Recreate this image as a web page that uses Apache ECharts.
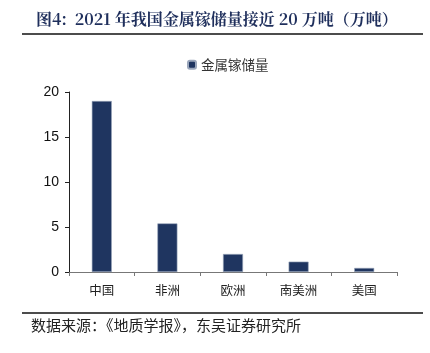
<!DOCTYPE html>
<html>
<head>
<meta charset="utf-8">
<script src="https://cdn.jsdelivr.net/npm/echarts@6/dist/echarts.min.js"></script>
<style>
  html, body { margin: 0; padding: 0; background: #fff; }
  #chart { width: 430px; height: 353px; }
</style>
</head>
<body>
<div id="chart"></div>
<script>
// data
const categories = ['中国', '非洲', '欧洲', '南美洲', '美国']
const reserves = [19.0, 5.4, 2.0, 1.15, 0.45]
const seriesName = '金属镓储量'
const yTicks = [0, 5, 10, 15, 20]

const chart = echarts.init(document.getElementById('chart'))

chart.setOption({
  animation: false,
  title: {
    text: '图4:  2021 年我国金属镓储量接近 20 万吨（万吨）',
    left: 31,
    top: 6,
    textStyle: {
      fontFamily: '"Noto Serif CJK SC", "Noto Sans CJK SC", serif',
      fontSize: 16,
      fontWeight: 'bold',
      color: '#1f2f5c'
    }
  },
  legend: {
    data: [seriesName],
    top: 53,
    left: 182,
    itemWidth: 8,
    itemHeight: 8,
    itemGap: 4,
    textStyle: {
      fontFamily: '"Noto Sans CJK SC", sans-serif',
      fontSize: 13.5,
      color: '#333'
    }
  },
  grid: {
    left: 69,
    right: 33,
    top: 92,
    bottom: 81
  },
  xAxis: {
    type: 'category',
    data: categories,
    axisLine: { lineStyle: { color: '#777', width: 1 } },
    axisTick: { show: true, length: 4, alignWithLabel: false, lineStyle: { color: '#777' } },
    axisLabel: {
      margin: 12,
      fontFamily: '"Noto Sans CJK SC", sans-serif',
      fontSize: 12.5,
      color: '#222'
    }
  },
  yAxis: {
    type: 'value',
    min: yTicks[0],
    max: yTicks[yTicks.length - 1],
    interval: 5,
    splitLine: { show: false },
    axisLine: { show: true, lineStyle: { color: '#222', width: 1 } },
    axisTick: { show: true, length: 4, lineStyle: { color: '#222' } },
    axisLabel: {
      margin: 10,
      fontFamily: 'Arial, "Liberation Sans", sans-serif',
      fontSize: 14,
      color: '#111'
    }
  },
  series: [
    {
      name: seriesName,
      type: 'bar',
      data: reserves,
      barWidth: 20,
      itemStyle: {
        color: '#1f3560',
        borderColor: '#9aa6bb',
        borderWidth: 0.6
      }
    }
  ],
  graphic: [
    {
      type: 'line',
      shape: { x1: 22, y1: 34, x2: 423, y2: 34 },
      style: { stroke: '#111', lineWidth: 1.5 }
    },
    {
      type: 'line',
      shape: { x1: 22, y1: 313, x2: 423, y2: 313 },
      style: { stroke: '#111', lineWidth: 1.5 }
    },
    {
      type: 'text',
      left: 31,
      top: 318,
      style: {
        text: '数据来源：《地质学报》，东吴证券研究所',
        fontFamily: '"Noto Sans CJK SC", sans-serif',
        fontSize: 15,
        fill: '#222'
      }
    }
  ]
})
</script>
</body>
</html>
